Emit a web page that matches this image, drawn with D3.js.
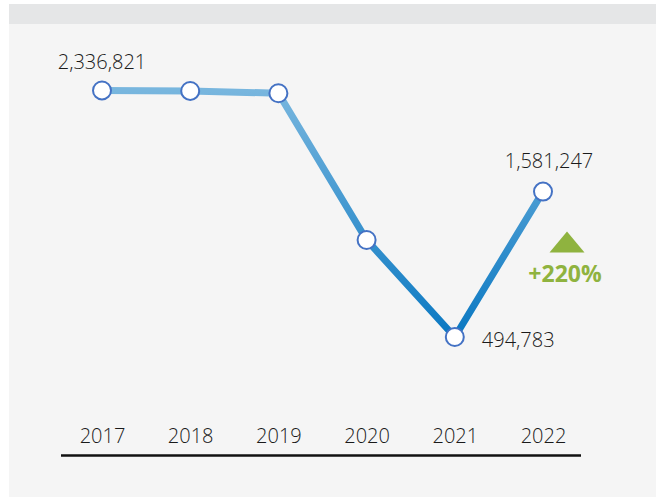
<!DOCTYPE html>
<html>
<head>
<meta charset="utf-8">
<script src="https://cdn.jsdelivr.net/npm/d3@7"></script>
<style>
  html, body { margin: 0; padding: 0; background: #ffffff; }
  svg { display: block; }
  text { font-family: "Open Sans", "Segoe UI", sans-serif; }
</style>
</head>
<body>
<div id="chart"></div>
<script>
// data
const years = ['2017', '2018', '2019', '2020', '2021', '2022'];
const totals = [2336821, 2333000, 2316000, 1219600, 494783, 1581247];
const labelled = ['2017', '2021', '2022'];
const changeLabel = '+220%';

const width = 662;
const height = 497;

const svg = d3.select('#chart').append('svg')
  .attr('width', width)
  .attr('height', height);

// panel + header band
svg.append('rect')
  .attr('x', 9).attr('y', 24)
  .attr('width', 647).attr('height', height - 24)
  .attr('fill', '#f5f5f5');
svg.append('rect')
  .attr('x', 9).attr('y', 4)
  .attr('width', 647).attr('height', 20)
  .attr('fill', '#e5e6e7');

const xScale = d3.scalePoint()
  .domain(years)
  .range([102, 543]);

const yScale = d3.scaleLinear()
  .domain([0, 2400000])
  .range([403.2, 82]);

// gradient for the line, light at top, dark at bottom
const defs = svg.append('defs');
const grad = defs.append('linearGradient')
  .attr('id', 'lineGrad')
  .attr('gradientUnits', 'userSpaceOnUse')
  .attr('x1', 0).attr('x2', 0)
  .attr('y1', yScale(d3.max(totals)))
  .attr('y2', yScale(d3.min(totals)));
grad.append('stop').attr('offset', '0%').attr('stop-color', '#78b6de');
grad.append('stop').attr('offset', '100%').attr('stop-color', '#0a78c2');

const data = years.map((y, i) => ({ year: y, value: totals[i] }));

// x axis: tick labels + baseline
const xAxis = svg.append('g')
  .attr('class', 'axis axis--x')
  .attr('transform', 'translate(0, 455)')
  .call(d3.axisBottom(xScale).tickSize(0).tickPadding(0));
xAxis.select('.domain').remove();
xAxis.selectAll('text')
  .attr('y', -12)
  .attr('dy', 0)
  .attr('fill', '#1a1a1a')
  .style('font-size', '20px')
  .style('font-weight', 300)
  .style('font-family', '"Open Sans", "Segoe UI", sans-serif');

svg.append('line')
  .attr('x1', 61).attr('x2', 581)
  .attr('y1', 455.5).attr('y2', 455.5)
  .attr('stroke', '#111')
  .attr('stroke-width', 2.5);

const line = d3.line()
  .curve(d3.curveLinear)
  .x(d => xScale(d.year))
  .y(d => yScale(d.value));

svg.append('path')
  .datum(data)
  .attr('d', line)
  .attr('fill', 'none')
  .attr('stroke', 'url(#lineGrad)')
  .attr('stroke-width', 7)
  .attr('stroke-linejoin', 'round');

svg.selectAll('.dot')
  .data(data)
  .enter()
  .append('circle')
  .attr('class', 'dot')
  .attr('cx', d => xScale(d.year))
  .attr('cy', d => yScale(d.value))
  .attr('r', 9)
  .attr('fill', '#ffffff')
  .attr('stroke', '#4472c4')
  .attr('stroke-width', 2);

// value labels
const fmt = d3.format(',');
const labelPos = {
  '2017': { dx: 0, dy: -21, anchor: 'middle' },
  '2021': { dx: 27, dy: 10, anchor: 'start' },
  '2022': { dx: 6, dy: -24, anchor: 'middle' }
};
svg.selectAll('.value-label')
  .data(data.filter(d => labelled.includes(d.year)))
  .enter()
  .append('text')
  .attr('class', 'value-label')
  .attr('x', d => xScale(d.year) + labelPos[d.year].dx)
  .attr('y', d => yScale(d.value) + labelPos[d.year].dy)
  .attr('text-anchor', d => labelPos[d.year].anchor)
  .attr('fill', '#1a1a1a')
  .style('font-size', '20px')
  .style('font-weight', 300)
  .text(d => fmt(d.value));

// change indicator (flat triangle + percentage)
const last = data[data.length - 1];
const cx = xScale(last.year) + 24;
const cy = yScale(last.value);
svg.append('path')
  .attr('d', d3.line()([[-17.5, 10.5], [17.5, 10.5], [0, -10.5]]) + 'Z')
  .attr('transform', `translate(${cx}, ${cy + 50.5})`)
  .attr('fill', '#8fb33f');
svg.append('text')
  .attr('x', cx - 2)
  .attr('y', cy + 90)
  .attr('text-anchor', 'middle')
  .attr('fill', '#8fb33f')
  .style('font-size', '23px')
  .style('font-weight', 700)
  .text(changeLabel);
</script>
</body>
</html>
